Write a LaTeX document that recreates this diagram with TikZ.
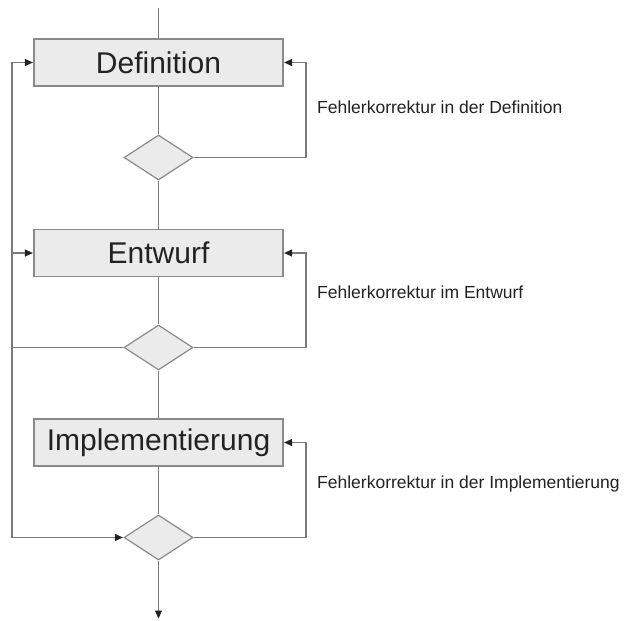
\documentclass[tikz,border=0pt]{standalone}
\usepackage{fontspec}
\setmainfont{Liberation Sans}
\usetikzlibrary{shapes.geometric,arrows.meta}
\definecolor{boxfill}{HTML}{EBEBEB}
\definecolor{edge}{HTML}{8A8A8A}
\definecolor{wire}{HTML}{7A7A7A}
\definecolor{ink}{HTML}{222222}
\begin{document}
\begin{tikzpicture}[x=1pt,y=-1pt,
  phase/.style={draw=edge,line width=1.2pt,fill=boxfill,minimum width=249pt,
    minimum height=47pt,inner sep=0pt,text=ink,font=\fontsize{30}{36}\selectfont},
  check/.style={draw=edge,line width=1.2pt,fill=boxfill,shape=diamond,
    minimum width=69pt,minimum height=45pt,inner sep=0pt},
  wireline/.style={draw=wire,line width=1.2pt},
  arr/.style={wireline,-{Triangle[length=8pt,width=7pt,color=ink,fill=ink]},shorten >=0.5pt},
  note/.style={anchor=base west,text=ink,inner sep=0pt,font=\fontsize{17.5}{21}\selectfont}]
\useasboundingbox (0,0) rectangle (625,621);

% phases and decisions
\node[phase] (def) at (158.5,62.5) {Definition};
\node[check] (d1) at (158.5,157.5) {};
\node[phase] (ent) at (158.5,253) {Entwurf};
\node[check] (d2) at (158.5,347.5) {};
\node[phase] (imp) at (158.5,442.5) {Implementierung};
\node[check] (d3) at (158.5,537.5) {};

% helper points
\coordinate (start) at (158.5,8);
\coordinate (finish) at (158.5,619);
\coordinate (lbot) at (12,537.5);
\coordinate (rr) at (306,0);

% main flow
\draw[wireline] (start) -- (def.north);
\draw[wireline] (def.south) -- (d1.north);
\draw[wireline] (d1.south) -- (ent.north);
\draw[wireline] (ent.south) -- (d2.north);
\draw[wireline] (d2.south) -- (imp.north);
\draw[wireline] (imp.south) -- (d3.north);
\draw[arr] (d3.south) -- (finish);

% left return line
\draw[arr] (lbot) |- (def.west);
\draw[arr] (lbot |- ent.west) -- (ent.west);
\draw[arr] (lbot) -- (d3.west);
\draw[wireline] (d2.west) -- (d2.west -| lbot);

% right correction loops
\draw[arr] (d1.east) -- (d1.east -| rr) |- (def.east);
\draw[arr] (d2.east) -- (d2.east -| rr) |- (ent.east);
\draw[arr] (d3.east) -- (d3.east -| rr) |- (imp.east);

% loop labels
\node[note] (n1) at (317,113) {Fehlerkorrektur in der Definition};
\node[note] (n2) at (317,298) {Fehlerkorrektur im Entwurf};
\node[note] (n3) at (317,488) {Fehlerkorrektur in der Implementierung};
\end{tikzpicture}
\end{document}
